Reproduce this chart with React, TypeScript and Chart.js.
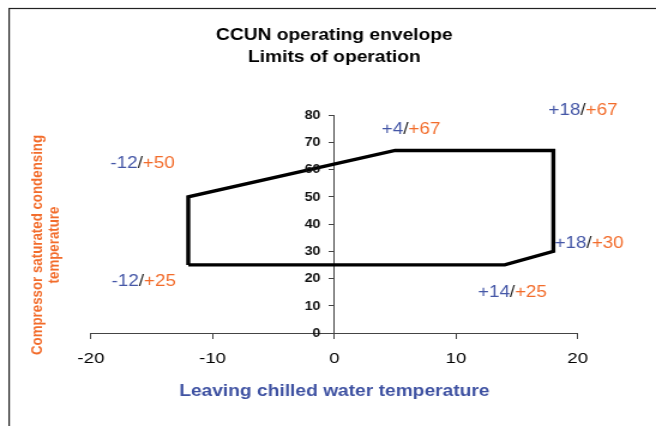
import React, { useEffect, useRef } from 'react';
import { Chart, registerables } from 'chart.js';

Chart.register(...registerables);

// ---- data ----
const titleLines = ['CCUN operating envelope', 'Limits of operation'];
const xAxisTitle = 'Leaving chilled water temperature';
const yAxisTitleLines = ['Compressor saturated condensing', 'temperature'];

// envelope vertices (leaving water temp, condensing temp), closed polygon
const envelopeX = [-12, -12, 5, 18, 18, 14, -12];
const envelopeY = [25, 50, 67, 67, 30, 25, 25];

// corner annotations
const labelWater = ['-12', '-12', '+4', '+18', '+18', '+14'];
const labelCond = ['+50', '+25', '+67', '+67', '+30', '+25'];
const labelPosX = [-18.4, -18.3, 3.9, 17.6, 18.1, 11.8];
const labelPosY = [62, 18.9, 74.6, 81.6, 32.9, 14.7];

const xMin = -20;
const xMax = 20;
const xStep = 10;
const yMin = 0;
const yMax = 80;
const yStep = 10;

// ---- styling ----
const LOGICAL_W = 547;
const H = 426;
const FONT = '"Liberation Sans", Arial, sans-serif';
const BLUE = '#4557a7';
const BLUE_TITLE = '#3f52a2';
const ORANGE = '#f26c2b';

const decorPlugin = {
  id: 'decor',
  afterDraw(chart: any) {
    const ctx = chart.ctx as CanvasRenderingContext2D;
    const ca = chart.chartArea;
    const xs = chart.scales.x;
    const ys = chart.scales.y;
    const cx = (ca.left + ca.right) / 2;
    ctx.save();
    // frame
    ctx.strokeStyle = '#222';
    ctx.lineWidth = 1.2;
    ctx.strokeRect(7.6, 8.5, 2000, 2000);

    // title
    ctx.fillStyle = '#000';
    ctx.font = `bold 16px ${FONT}`;
    ctx.textAlign = 'center';
    ctx.textBaseline = 'middle';
    ctx.fillText(titleLines[0], cx, 35.5);
    ctx.fillText(titleLines[1], cx, 57.5);

    // x axis title
    ctx.fillStyle = BLUE_TITLE;
    ctx.font = `bold 16px ${FONT}`;
    ctx.fillText(xAxisTitle, cx, 392);

    // y axis title
    ctx.save();
    ctx.translate(38.5, 245);
    ctx.rotate(-Math.PI / 2);
    ctx.fillStyle = ORANGE;
    ctx.font = `bold 13.3px ${FONT}`;
    ctx.fillText(yAxisTitleLines[0], 0, -7.3);
    ctx.fillText(yAxisTitleLines[1], 0, 7.3);
    ctx.restore();

    // y tick labels, placed from the y scale's own ticks
    const axisPx = xs.getPixelForValue(0);
    ctx.fillStyle = '#111';
    ctx.font = `bold 12px ${FONT}`;
    ctx.textAlign = 'right';
    ctx.textBaseline = 'middle';
    for (const t of ys.ticks) {
      ctx.fillText(String(t.value), axisPx - 11.5, ys.getPixelForValue(t.value) + 0.5);
    }

    // annotations
    ctx.font = `15.7px ${FONT}`;
    ctx.textAlign = 'left';
    ctx.textBaseline = 'middle';
    for (let i = 0; i < labelWater.length; i++) {
      let px = xs.getPixelForValue(labelPosX[i]);
      const py = ys.getPixelForValue(labelPosY[i]);
      const parts: [string, string][] = [
        [labelWater[i], BLUE],
        ['/', '#222'],
        [labelCond[i], ORANGE],
      ];
      for (const [t, c] of parts) {
        ctx.fillStyle = c;
        ctx.fillText(t, px, py);
        px += ctx.measureText(t).width;
      }
    }
    ctx.restore();
  },
};

export default function App() {
  const canvasRef = useRef<HTMLCanvasElement | null>(null);

  useEffect(() => {
    const canvas = canvasRef.current;
    if (!canvas) return;
    const chart = new Chart(canvas, {
      type: 'scatter',
      data: {
        datasets: [
          {
            data: envelopeX.map((x, i) => ({ x, y: envelopeY[i] })),
            showLine: true,
            borderColor: '#000',
            borderWidth: 3.4,
            borderJoinStyle: 'miter',
            pointRadius: 0,
            pointHoverRadius: 0,
            fill: false,
            tension: 0,
          } as any,
        ],
      },
      options: {
        responsive: false,
        animation: false,
        devicePixelRatio: 1,
        layout: { padding: { left: 75.8, right: 65.3, top: 115, bottom: 93 } },
        plugins: {
          legend: { display: false },
          title: { display: false },
          tooltip: { enabled: false },
        },
        scales: {
          x: {
            type: 'linear',
            position: { y: 0 } as any,
            min: xMin,
            max: xMax,
            ticks: {
              stepSize: xStep,
              color: '#000',
              padding: 11,
              font: { family: FONT, size: 15.5 },
            },
            grid: {
              display: true,
              drawOnChartArea: false,
              drawTicks: true,
              tickLength: 5,
              tickColor: '#444',
            },
            border: { display: true, color: '#444', width: 1 },
          },
          y: {
            type: 'linear',
            position: { x: 0 } as any,
            min: yMin,
            max: yMax,
            ticks: {
              stepSize: yStep,
              color: 'rgba(0,0,0,0)',
              padding: 7,
              font: { family: FONT, size: 12, weight: 'bold' },
            },
            grid: {
              display: true,
              drawOnChartArea: false,
              drawTicks: true,
              tickLength: 4,
              tickColor: '#444',
            },
            border: { display: true, color: '#444', width: 1 },
          },
        },
      },
      plugins: [decorPlugin],
    });
    return () => chart.destroy();
  }, []);

  return (
    <div
      style={{
        position: 'fixed',
        left: 0,
        top: 0,
        width: 656,
        height: H,
        overflow: 'hidden',
        background: '#fff',
      }}
    >
      <canvas
        ref={canvasRef}
        width={LOGICAL_W}
        height={H}
        style={{
          display: 'block',
          transform: `scaleX(${656 / LOGICAL_W})`,
          transformOrigin: '0 0',
        }}
      />
    </div>
  );
}
